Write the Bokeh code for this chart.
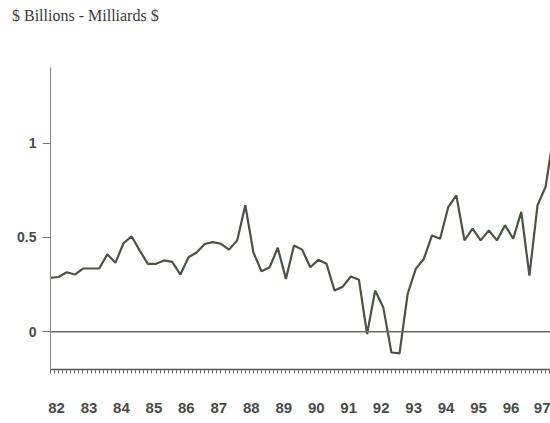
from bokeh.plotting import figure
from bokeh.models import Range1d, FixedTicker, Span, Div
from bokeh.layouts import column
from bokeh.embed import file_html
from bokeh.resources import INLINE

# Quarterly values, $ billions, 1982Q1 .. 1997Q3
years = [1982, 1983, 1984, 1985, 1986, 1987, 1988, 1989,
         1990, 1991, 1992, 1993, 1994, 1995, 1996, 1997]
values_by_year = [
    [0.286, 0.290, 0.315, 0.303],
    [0.335, 0.335, 0.335, 0.410],
    [0.365, 0.470, 0.505, 0.430],
    [0.360, 0.360, 0.378, 0.370],
    [0.303, 0.395, 0.420, 0.465],
    [0.475, 0.466, 0.435, 0.484],
    [0.670, 0.420, 0.320, 0.342],
    [0.445, 0.280, 0.457, 0.435],
    [0.342, 0.381, 0.360, 0.218],
    [0.239, 0.293, 0.275, -0.012],
    [0.218, 0.129, -0.110, -0.115],
    [0.200, 0.333, 0.387, 0.510],
    [0.493, 0.660, 0.723, 0.484],
    [0.546, 0.484, 0.537, 0.484],
    [0.564, 0.493, 0.635, 0.298],
    [0.670, 0.768, 1.050],
]
year_labels = ["82", "83", "84", "85", "86", "87", "88", "89",
               "90", "91", "92", "93", "94", "95", "96", "97"]
y_ticks = [0, 0.5, 1]
title_text = "$ Billions - Milliards $"

xs, ys = [], []
for yr, vals in zip(years, values_by_year):
    for q, v in enumerate(vals):
        xs.append(yr + q / 4)
        ys.append(v)

header = Div(
    text=('<div style="position:absolute; top:8px; left:12px; white-space:nowrap; '
          'font-family:\'Liberation Serif\'; font-size:16px; line-height:16px; '
          'color:#3a3a3a;">' + title_text + '</div>'),
    width=550, height=45, margin=0)

p = figure(width=550, height=376, output_backend="svg", toolbar_location=None,
           x_range=Range1d(1982.0, 1997.40), y_range=Range1d(-0.2, 1.4),
           min_border_left=50, min_border_right=0, min_border_top=22,
           min_border_bottom=52, margin=0)
p.outline_line_color = None
p.grid.visible = False
p.background_fill_color = "white"
p.border_fill_color = "white"

zero = Span(location=0, dimension="width", line_color="#6a6a6a", line_width=1.3)
p.add_layout(zero)

p.line(xs, ys, line_color="#4b5346", line_width=2.2)

# x axis
label_pos = [yr + 0.185 for yr in years]
minor = [1982 + k * 0.125 for k in range(0, 124)]
p.xaxis.ticker = FixedTicker(ticks=label_pos, minor_ticks=minor)
p.xaxis.major_label_overrides = {pos: lab for pos, lab in zip(label_pos, year_labels)}
p.xaxis.major_tick_out = 0
p.xaxis.major_tick_in = 0
p.xaxis.minor_tick_out = 4
p.xaxis.minor_tick_in = 0
p.xaxis.minor_tick_line_color = "#666666"
p.xaxis.axis_line_color = "#555555"
p.xaxis.axis_line_width = 1.3
p.xaxis.major_label_standoff = 29
p.xaxis.major_label_text_font = "Liberation Sans"
p.xaxis.major_label_text_font_style = "bold"
p.xaxis.major_label_text_font_size = "15px"
p.xaxis.major_label_text_color = "#4a4a4a"

# y axis
p.yaxis.ticker = FixedTicker(ticks=y_ticks)
p.yaxis.major_label_overrides = {0: "0", 0.5: "0.5", 1: "1"}
p.yaxis.major_tick_out = 8
p.yaxis.major_tick_in = 0
p.yaxis.minor_tick_out = 0
p.yaxis.minor_tick_in = 0
p.yaxis.major_tick_line_color = "#777777"
p.yaxis.axis_line_color = "#888888"
p.yaxis.major_label_standoff = 6
p.yaxis.major_label_text_font = "Liberation Sans"
p.yaxis.major_label_text_font_style = "bold"
p.yaxis.major_label_text_font_size = "14px"
p.yaxis.major_label_text_color = "#4a4a4a"

layout = column(header, p, spacing=0)
open("out.html", "w").write(file_html(layout, INLINE))
